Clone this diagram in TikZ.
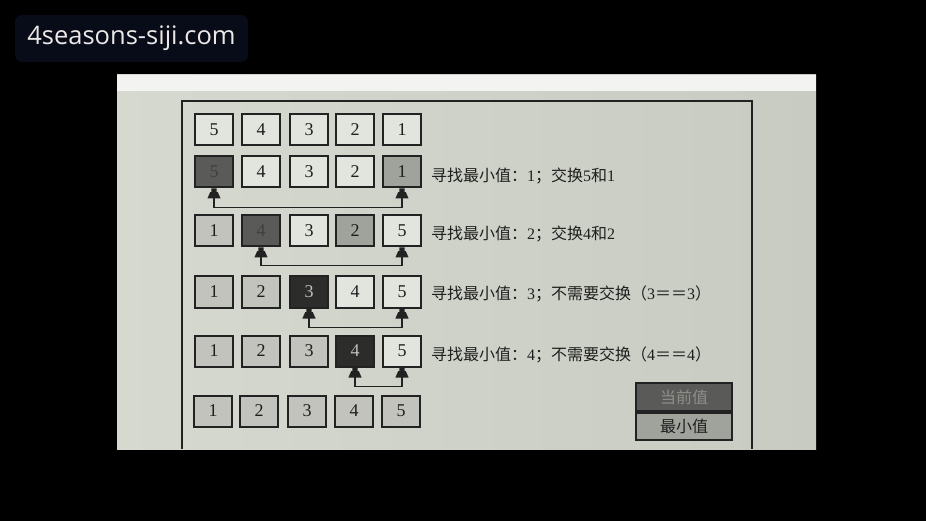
\documentclass[tikz,border=0pt]{standalone}
\usepackage{fontspec}
\setmainfont{Liberation Serif}
\newfontfamily\cjk{Noto Sans CJK SC}
\newfontfamily\wmfont{Open Sans}
\usetikzlibrary{arrows.meta}
\definecolor{pageL}{RGB}{214,217,207}
\definecolor{pageR}{RGB}{200,203,194}
\definecolor{strip}{RGB}{243,243,241}
\definecolor{ink}{RGB}{30,30,30}
\definecolor{boxline}{RGB}{34,34,34}
\definecolor{fLite}{RGB}{226,228,222}
\definecolor{fSort}{RGB}{193,195,188}
\definecolor{fMin}{RGB}{160,162,156}
\definecolor{fCur}{RGB}{90,90,88}
\definecolor{fBoth}{RGB}{44,44,43}
\definecolor{lgtx}{RGB}{142,142,138}
\definecolor{wmbg}{RGB}{8,12,24}
\definecolor{wmtx}{RGB}{236,232,232}
\pgfdeclarearrow{
  name=Ped,
  setup code={\pgfarrowssettipend{0pt}\pgfarrowssetlineend{-8pt}\pgfarrowssetbackend{-10pt}},
  drawing code={
    \pgfpathmoveto{\pgfqpoint{0pt}{2.6pt}}
    \pgfpathlineto{\pgfqpoint{-3.6pt}{2.6pt}}
    \pgfpathlineto{\pgfqpoint{-3.6pt}{3.8pt}}
    \pgfpathlineto{\pgfqpoint{-10pt}{6.6pt}}
    \pgfpathlineto{\pgfqpoint{-10pt}{-6.6pt}}
    \pgfpathlineto{\pgfqpoint{-3.6pt}{-3.8pt}}
    \pgfpathlineto{\pgfqpoint{-3.6pt}{-2.6pt}}
    \pgfpathlineto{\pgfqpoint{0pt}{-2.6pt}}
    \pgfpathclose
    \pgfusepathqfill
  }
}
\newcommand{\cn}[1]{{\cjk #1}}
\begin{document}
\begin{tikzpicture}[x=1pt,y=-1pt,
  bx/.style={draw=boxline, line width=2pt, minimum width=38pt, minimum height=31pt,
    inner sep=0pt, text=ink, font=\fontsize{18}{18}\selectfont},
  lite/.style={bx, fill=fLite},
  sorted/.style={bx, fill=fSort},
  minv/.style={bx, fill=fMin},
  cur/.style={bx, fill=fCur, text=black!75},
  both/.style={bx, fill=fBoth, text=black!25},
  link/.style={draw=boxline, line width=1.8pt, {Ped}-{Ped}},
  lbl/.style={anchor=west, text=ink, inner sep=0pt, font=\fontsize{16}{16}\selectfont},
  legend/.style={draw=boxline, line width=2pt, minimum width=96pt, minimum height=27.5pt,
    inner sep=0pt, text=ink, font=\cjk\fontsize{16}{16}\selectfont}]
\useasboundingbox (0,0) rectangle (926,521);
\fill[black] (0,0) rectangle (926,521);
% watermark
\node[fill=wmbg, rounded corners=7pt, minimum width=233pt, minimum height=47pt, inner sep=0pt,
  text=wmtx, font=\wmfont\fontsize{25.5}{26}\selectfont] (wm) at (131.5,38.5) {4seasons-siji.com};
% photo
\shade[left color=pageL, right color=pageR] (117,75) rectangle (816,449);
\fill[strip] (117,75) rectangle (816,91);
% frame
\draw[boxline, line width=2.2pt] (182,449) -- (182,101) -- (752,101) -- (752,449);
% row 1
\node[lite] (a1) at (214,130) {5};
\node[lite] (a2) at (261,130) {4};
\node[lite] (a3) at (309,130) {3};
\node[lite] (a4) at (355,130) {2};
\node[lite] (a5) at (402,130) {1};
% row 2
\node[cur]  (b1) at (214,172) {5};
\node[lite] (b2) at (261,172) {4};
\node[lite] (b3) at (309,172) {3};
\node[lite] (b4) at (355,172) {2};
\node[minv] (b5) at (402,172) {1};
% row 3
\node[sorted] (c1) at (214,231) {1};
\node[cur]    (c2) at (261,231) {4};
\node[lite]   (c3) at (309,231) {3};
\node[minv]   (c4) at (355,231) {2};
\node[lite]   (c5) at (402,231) {5};
% row 4
\node[sorted] (d1) at (214,292) {1};
\node[sorted] (d2) at (261,292) {2};
\node[both]   (d3) at (309,292) {3};
\node[lite]   (d4) at (355,292) {4};
\node[lite]   (d5) at (402,292) {5};
% row 5
\node[sorted] (e1) at (214,351) {1};
\node[sorted] (e2) at (261,351) {2};
\node[sorted] (e3) at (309,351) {3};
\node[both]   (e4) at (355,351) {4};
\node[lite]   (e5) at (402,351) {5};
% row 6
\node[sorted] (f1) at (213,411) {1};
\node[sorted] (f2) at (259,411) {2};
\node[sorted] (f3) at (307,411) {3};
\node[sorted] (f4) at (354,411) {4};
\node[sorted] (f5) at (401,411) {5};
% connectors
\draw[link] (b1.south) -- ++(0,19) -| (b5.south);
\draw[link] (c2.south) -- ++(0,18) -| (c5.south);
\draw[link] (d3.south) -- ++(0,19) -| (d5.south);
\draw[link] (e4.south) -- ++(0,19) -| (e5.south);
% labels
\node[lbl] (t1) at (431,176) {\cn{寻找最小值：}1\cn{；交换}5\cn{和}1};
\node[lbl] (t2) at (431,234) {\cn{寻找最小值：}2\cn{；交换}4\cn{和}2};
\node[lbl] (t3) at (431,294) {\cn{寻找最小值：}3\cn{；不需要交换（}3\cn{＝＝}3\cn{）}};
\node[lbl] (t4) at (431,355) {\cn{寻找最小值：}4\cn{；不需要交换（}4\cn{＝＝}4\cn{）}};
% legend
\node[legend, fill=fCur, text=lgtx] (lg1) at (684,397) {当前值};
\node[legend, fill=fMin, anchor=north] (lg2) at (lg1.south) {最小值};
\end{tikzpicture}
\end{document}
